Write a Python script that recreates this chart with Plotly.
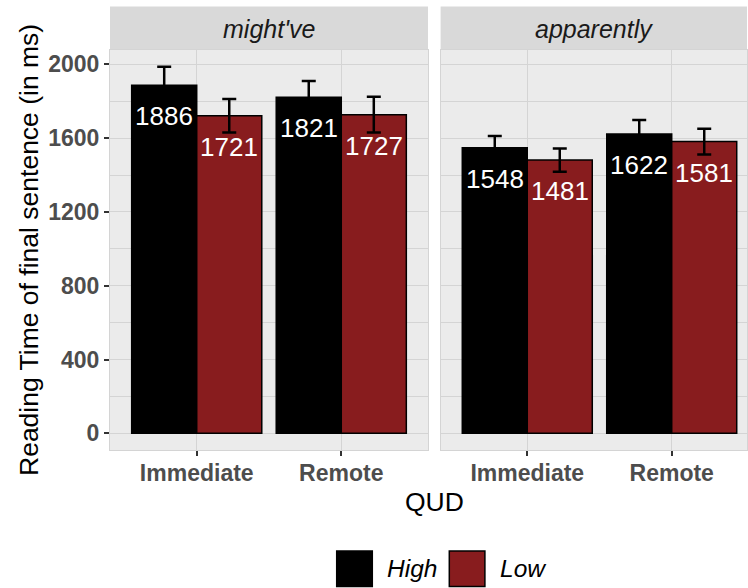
import plotly.graph_objects as go

# ---- data ----
categories = ["Immediate", "Remote"]
facets = ["might've", "apparently"]
groups = ["High", "Low"]
colors = ["#000000", "#881C1E"]
high_means = [[1886, 1821], [1548, 1622]]
low_means = [[1721, 1727], [1481, 1581]]
high_err = [[101, 88], [63, 76]]
low_err = [[91, 97], [63, 70]]
y_ticks = [0, 400, 800, 1200, 1600, 2000]

means = {"High": high_means, "Low": low_means}
errs = {"High": high_err, "Low": low_err}

W, H = 748, 588
ML, MR, MT, MB = 110, 1, 50, 138
PW = W - ML - MR
PH = H - MT - MB

BARGAP = 0.1
bar_w = (1 - BARGAP) / len(groups)

FONT = "Liberation Sans, Arial, sans-serif"
GRID = "#D4D4D4"

fig = go.Figure()
axis_ids = ["", "2"]
for fi, facet in enumerate(facets):
    for gi, g in enumerate(groups):
        fig.add_trace(go.Bar(
            x=categories,
            y=means[g][fi],
            name=g,
            marker=dict(color=colors[gi], line=dict(color="#000000", width=1.5)),
            error_y=dict(type="data", array=errs[g][fi], color="#000000",
                         thickness=2.5, width=7),
            xaxis="x" + axis_ids[fi], yaxis="y" + axis_ids[fi],
            showlegend=False,
        ))

annotations = []
shapes = []
for fi, facet in enumerate(facets):
    xr = "x" + axis_ids[fi]
    yr = "y" + axis_ids[fi]
    for gi, g in enumerate(groups):
        off = -0.5 * (1 - BARGAP) + bar_w * (gi + 0.5)
        for ci, c in enumerate(categories):
            v = means[g][fi][ci]
            annotations.append(dict(
                x=ci + off, y=v, xref=xr, yref=yr, text=str(v), showarrow=False,
                yshift=-31, font=dict(family=FONT, size=26, color="white"),
                xanchor="center", yanchor="middle"))
    # strip
    shapes.append(dict(type="rect", xref=xr + " domain", yref="paper",
                       x0=0, x1=1, y0=1, y1=1 + 43.5 / PH,
                       fillcolor="#D9D9D9", line=dict(width=0), layer="below"))
    annotations.append(dict(x=0.5, y=1 + 21.5 / PH, xref=xr + " domain", yref="paper",
                            text="<i>" + facet + "</i>", showarrow=False,
                            font=dict(family=FONT, size=25, color="#1A1A1A"),
                            xanchor="center", yanchor="middle"))

# axis titles
annotations.append(dict(x=(29 - ML) / PW, y=0.5, xref="paper", yref="paper",
                        text="Reading Time of final sentence (in ms)", textangle=-90,
                        showarrow=False, font=dict(family=FONT, size=26.5, color="#000000"),
                        xanchor="center", yanchor="middle"))
annotations.append(dict(x=(434 - ML) / PW, y=(PH - (501.7 - MT)) / PH, xref="paper", yref="paper",
                        text="QUD", showarrow=False,
                        font=dict(family=FONT, size=26.5, color="#000000"),
                        xanchor="center", yanchor="middle"))

# legend (manual, large keys)
key_x = [336.7, 449.3]
key_size = 35.6
key_top = 551
for gi, g in enumerate(groups):
    x0 = (key_x[gi] - ML) / PW
    x1 = (key_x[gi] + key_size - ML) / PW
    y0 = (PH - (key_top - MT)) / PH
    y1 = (PH - (key_top + key_size - MT)) / PH
    shapes.append(dict(type="rect", xref="paper", yref="paper", x0=x0, x1=x1, y0=y1, y1=y0,
                       fillcolor=colors[gi], line=dict(color="#000000", width=1.5)))
    annotations.append(dict(x=(key_x[gi] + key_size + 13 - ML) / PW,
                            y=(PH - (key_top + key_size / 2 - MT)) / PH,
                            xref="paper", yref="paper", text="<i>" + g + "</i>",
                            showarrow=False, xanchor="left", yanchor="middle",
                            font=dict(family=FONT, size=24.5, color="#000000")))

px_per_unit = 144.5
left_w = 318
right_w = 306.5
gap = 440.6 - 428
d0 = [0, left_w / PW]
d1 = [(left_w + gap) / PW, 1]

xaxis_common = dict(
    type="category", categoryorder="array", categoryarray=categories,
    showgrid=True, gridcolor=GRID, gridwidth=1.4,
    ticks="outside", ticklen=5, tickwidth=2, tickcolor="#333333",
    ticklabelstandoff=-3,
    tickfont=dict(family=FONT, size=23, color="#4D4D4D", weight="bold"),
    showline=True, mirror=True, linecolor=GRID, linewidth=1,
    zeroline=False, fixedrange=True,
)
yaxis_common = dict(
    range=[-90.5, 2077.5], tickmode="array", tickvals=y_ticks,
    showgrid=True, gridcolor=GRID, gridwidth=1.4,
    minor=dict(dtick=200, tick0=0, showgrid=True, gridcolor=GRID, gridwidth=0.8),
    showline=True, mirror=True, linecolor=GRID, linewidth=1,
    zeroline=False,
)

fig.update_layout(
    width=W, height=H,
    margin=dict(l=ML, r=MR, t=MT, b=MB, pad=0),
    paper_bgcolor="white", plot_bgcolor="#EBEBEB",
    barmode="group", bargap=BARGAP, bargroupgap=0,
    showlegend=False,
    xaxis=dict(domain=d0, range=[-0.6, 1.6], anchor="y", **xaxis_common),
    xaxis2=dict(domain=d1, range=[-0.6, -0.6 + right_w / px_per_unit], anchor="y2", **xaxis_common),
    yaxis=dict(anchor="x", ticks="outside", ticklen=5, tickwidth=2, tickcolor="#333333",
               tickfont=dict(family=FONT, size=23, color="#4D4D4D", weight="bold"),
               **yaxis_common),
    yaxis2=dict(anchor="x2", matches="y", showticklabels=False, ticks="", **yaxis_common),
    annotations=annotations,
    shapes=shapes,
)

fig.write_html("out.html")
